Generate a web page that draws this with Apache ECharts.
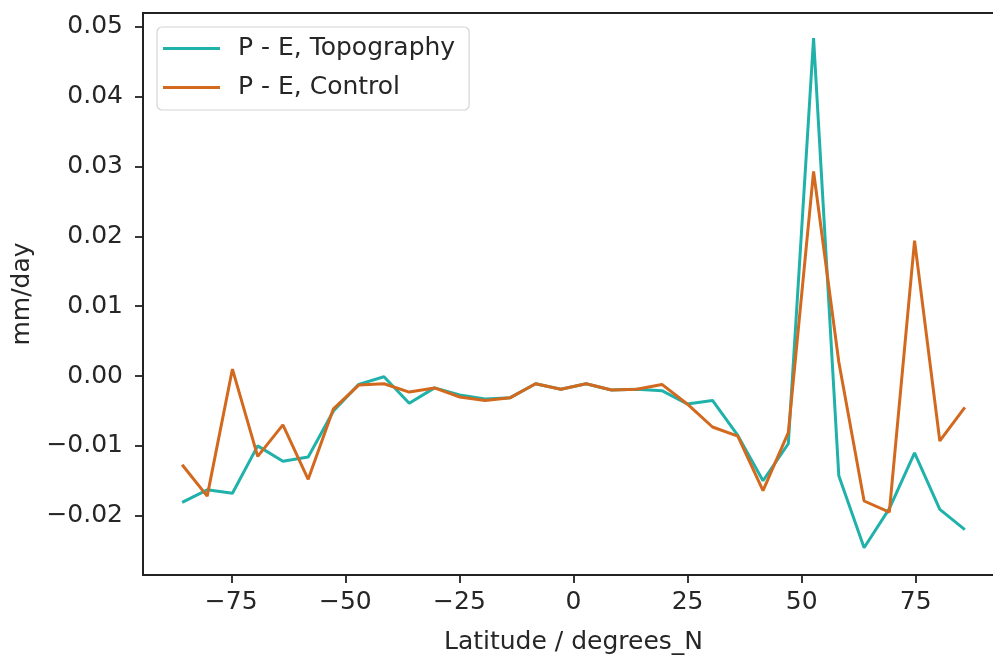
<!DOCTYPE html>
<html>
<head>
<meta charset="utf-8">
<script src="https://cdn.jsdelivr.net/npm/echarts@6/dist/echarts.min.js"></script>
<style>
  html, body { margin: 0; padding: 0; background: #fff; overflow: hidden; }
  #chart { width: 993px; height: 659px; }
</style>
</head>
<body>
<div id="chart"></div>
<script>
// Gaussian-grid latitudes (degrees N)
const latitudes = [-85.76, -80.27, -74.74, -69.21, -63.68, -58.14, -52.61, -47.07,
  -41.53, -36.00, -30.46, -24.92, -19.38, -13.84, -8.31, -2.77,
  2.77, 8.31, 13.84, 19.38, 24.92, 30.46, 36.00, 41.53,
  47.07, 52.61, 58.14, 63.68, 69.21, 74.74, 80.27, 85.76];

// Zonal-mean P - E (mm/day)
const pmeTopography = [-0.0181, -0.0163, -0.0168, -0.0100, -0.0122, -0.0116, -0.0050, -0.0012,
  -0.0001, -0.0039, -0.0017, -0.0027, -0.0033, -0.0031, -0.0011, -0.0019,
  -0.0011, -0.0020, -0.0019, -0.0021, -0.0040, -0.0035, -0.0085, -0.0150,
  -0.0097, 0.0484, -0.0143, -0.0246, -0.0190, -0.0110, -0.0191, -0.0220];

const pmeControl = [-0.0127, -0.0172, 0.0010, -0.0115, -0.0070, -0.0148, -0.0047, -0.0013,
  -0.0011, -0.0023, -0.0017, -0.0030, -0.0035, -0.0031, -0.0011, -0.0019,
  -0.0011, -0.0020, -0.0019, -0.0012, -0.0040, -0.0073, -0.0086, -0.0164,
  -0.0081, 0.0293, 0.0020, -0.0179, -0.0195, 0.0194, -0.0093, -0.0045];

const xTicks = [-75, -50, -25, 0, 25, 50, 75];
const yTicks = [-0.02, -0.01, 0.00, 0.01, 0.02, 0.03, 0.04, 0.05];

const seriesNames = ['P - E, Topography', 'P - E, Control'];

const X_MIN = -94.34, X_MAX = 94.34;
const FONT = 'DejaVu Sans';
const FONT_SIZE = 25;
const INK = '#262626';
const SPINE = '#222222';

const toPairs = (xs, ys) => xs.map((x, i) => [x, ys[i]]);
const minus = s => String(s).replace('-', '\u2212');

const chart = echarts.init(document.getElementById('chart'), null, { renderer: 'canvas' });

chart.setOption({
  animation: false,
  backgroundColor: '#ffffff',
  textStyle: { fontFamily: FONT },
  grid: {
    left: 143, top: 13, width: 861, height: 562,
    containLabel: false,
    outerBoundsMode: 'none',
    show: true, borderColor: SPINE, borderWidth: 1.8, backgroundColor: 'transparent'
  },
  legend: {
    orient: 'vertical',
    left: 157, top: 27,
    padding: [9, 14, 10, 6],
    itemGap: 14,
    itemWidth: 57,
    itemHeight: 3,
    icon: 'rect',
    backgroundColor: 'rgba(255,255,255,0.8)',
    borderColor: '#d4d4d4',
    borderWidth: 1.2,
    borderRadius: 5,
    textStyle: { fontFamily: FONT, fontSize: FONT_SIZE, color: INK, lineHeight: 25, padding: [0, 0, 0, 13] },
    data: seriesNames
  },
  xAxis: {
    type: 'value',
    min: X_MIN, max: X_MAX,
    name: 'Latitude / degrees_N',
    nameLocation: 'middle',
    nameGap: 55,
    nameTextStyle: { fontFamily: FONT, fontSize: FONT_SIZE, color: INK },
    axisLine: { show: true, onZero: false, lineStyle: { color: SPINE, width: 1.8 } },
    axisTick: { show: true, length: 8, customValues: xTicks, lineStyle: { color: SPINE, width: 1.8 } },
    axisLabel: {
      customValues: xTicks, margin: 15, fontSize: FONT_SIZE, color: INK, fontFamily: FONT,
      formatter: v => minus(v)
    },
    splitLine: { show: false }
  },
  yAxis: {
    type: 'value',
    min: -0.0285, max: 0.0520,
    name: 'mm/day',
    nameLocation: 'middle',
    nameGap: 107,
    nameTextStyle: { fontFamily: FONT, fontSize: FONT_SIZE, color: INK },
    axisLine: { show: true, onZero: false, lineStyle: { color: SPINE, width: 1.8 } },
    axisTick: { show: true, length: 8, customValues: yTicks, lineStyle: { color: SPINE, width: 1.8 } },
    axisLabel: {
      customValues: yTicks, margin: 20, fontSize: FONT_SIZE, color: INK, fontFamily: FONT,
      formatter: v => minus(Number(v).toFixed(2))
    },
    splitLine: { show: false }
  },
  series: [
    {
      name: seriesNames[0],
      type: 'line',
      data: toPairs(latitudes, pmeTopography),
      symbol: 'none',
      color: '#20b2aa',
      lineStyle: { color: '#20b2aa', width: 3 }
    },
    {
      name: seriesNames[1],
      type: 'line',
      data: toPairs(latitudes, pmeControl),
      symbol: 'none',
      color: '#d2691e',
      lineStyle: { color: '#d2691e', width: 3 }
    }
  ]
});
</script>
</body>
</html>
